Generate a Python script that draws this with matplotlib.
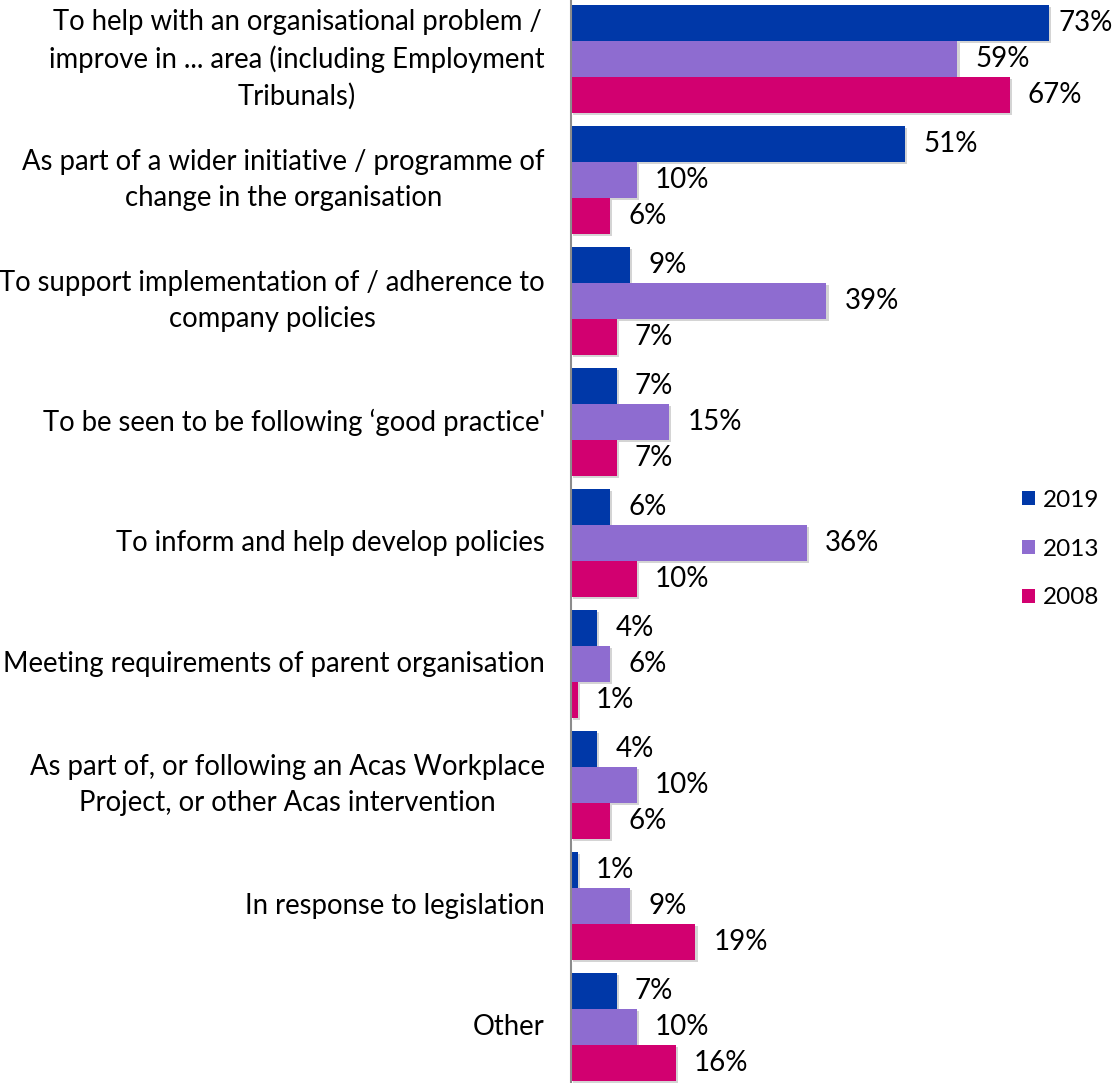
import matplotlib
matplotlib.use("Agg")
import matplotlib.pyplot as plt
import matplotlib.transforms as mtransforms
from matplotlib import patheffects as pe
from matplotlib.patches import Patch

categories = [
    "To help with an organisational problem /\nimprove in ... area (including Employment\nTribunals)",
    "As part of a wider initiative / programme of\nchange in the organisation",
    "To support implementation of / adherence to\ncompany policies",
    "To be seen to be following \u2018good practice'",
    "To inform and help develop policies",
    "Meeting requirements of parent organisation",
    "As part of, or following an Acas Workplace\nProject, or other Acas intervention",
    "In response to legislation",
    "Other",
]
series_names = ["2019", "2013", "2008"]
values_2019 = [73, 51, 9, 7, 6, 4, 4, 1, 7]
values_2013 = [59, 10, 39, 15, 36, 6, 10, 9, 10]
values_2008 = [67, 6, 7, 7, 10, 1, 6, 19, 16]

colors = ["#0038A8", "#8E6CD0", "#D20070"]
FONT = "Lato"

W, H = 1117, 1083
fig = plt.figure(figsize=(W / 100, H / 100), dpi=100)
ax_left = 571 / W
ax = fig.add_axes([ax_left, 0, 1 - ax_left, 1])

px_per_unit = 6.55
ax.set_xlim(0, (W - 571) / px_per_unit)
pitch = 121.0
top_center = 59.0
ax.set_ylim((H - top_center) / pitch, -top_center / pitch)

bar_h = 36 / pitch
offsets = [-bar_h, 0, bar_h]
shadow = [pe.SimplePatchShadow(offset=(1.5, -1.5), shadow_rgbFace="#a0a0a0", alpha=0.45), pe.Normal()]

value_texts = []
for vals, off, col in zip([values_2019, values_2013, values_2008], offsets, colors):
    ys = [i + off for i in range(len(categories))]
    bars = ax.barh(ys, vals, height=bar_h, color=col, edgecolor="none", zorder=2)
    for b in bars:
        b.set_path_effects(shadow)
    for y, v in zip(ys, vals):
        t = ax.annotate(f"{v}%", xy=(v, y), xytext=(13, 0), textcoords="offset points",
                        ha="left", va="center", fontsize=20, family=FONT, color="black")
        value_texts.append(t)

label_tr = mtransforms.blended_transform_factory(ax.transAxes, ax.transData)
for i, c in enumerate(categories):
    ax.text(-26 / (W - 571), i, c, transform=label_tr, ha="right", va="center",
            multialignment="center", fontsize=19.8, family=FONT, color="black",
            linespacing=1.45)

for s in ["top", "right", "bottom"]:
    ax.spines[s].set_visible(False)
ax.spines["left"].set_color("#8c8c8c")
ax.spines["left"].set_linewidth(1.5)
ax.set_xticks([])
ax.set_yticks([])

handles = [Patch(facecolor=c, edgecolor="none") for c in colors]
leg = fig.legend(handles, series_names, loc="center left", bbox_to_anchor=(1022 / W, 1 - 549 / H),
                 frameon=False, prop={"family": FONT, "size": 17.5}, handlelength=0.55,
                 handleheight=0.55, handletextpad=0.3, labelspacing=1.15,
                 borderpad=0, borderaxespad=0)

# keep value labels inside the canvas: pull back any that would run off the right edge
fig.canvas.draw()
renderer = fig.canvas.get_renderer()
for t in value_texts:
    bb = t.get_window_extent(renderer)
    overflow = bb.x1 - (W - 4)
    if overflow > 0:
        dx, dy = t.xyann
        t.xyann = (dx - overflow * 72 / 100, dy)

fig.savefig("out.png", dpi=100)
